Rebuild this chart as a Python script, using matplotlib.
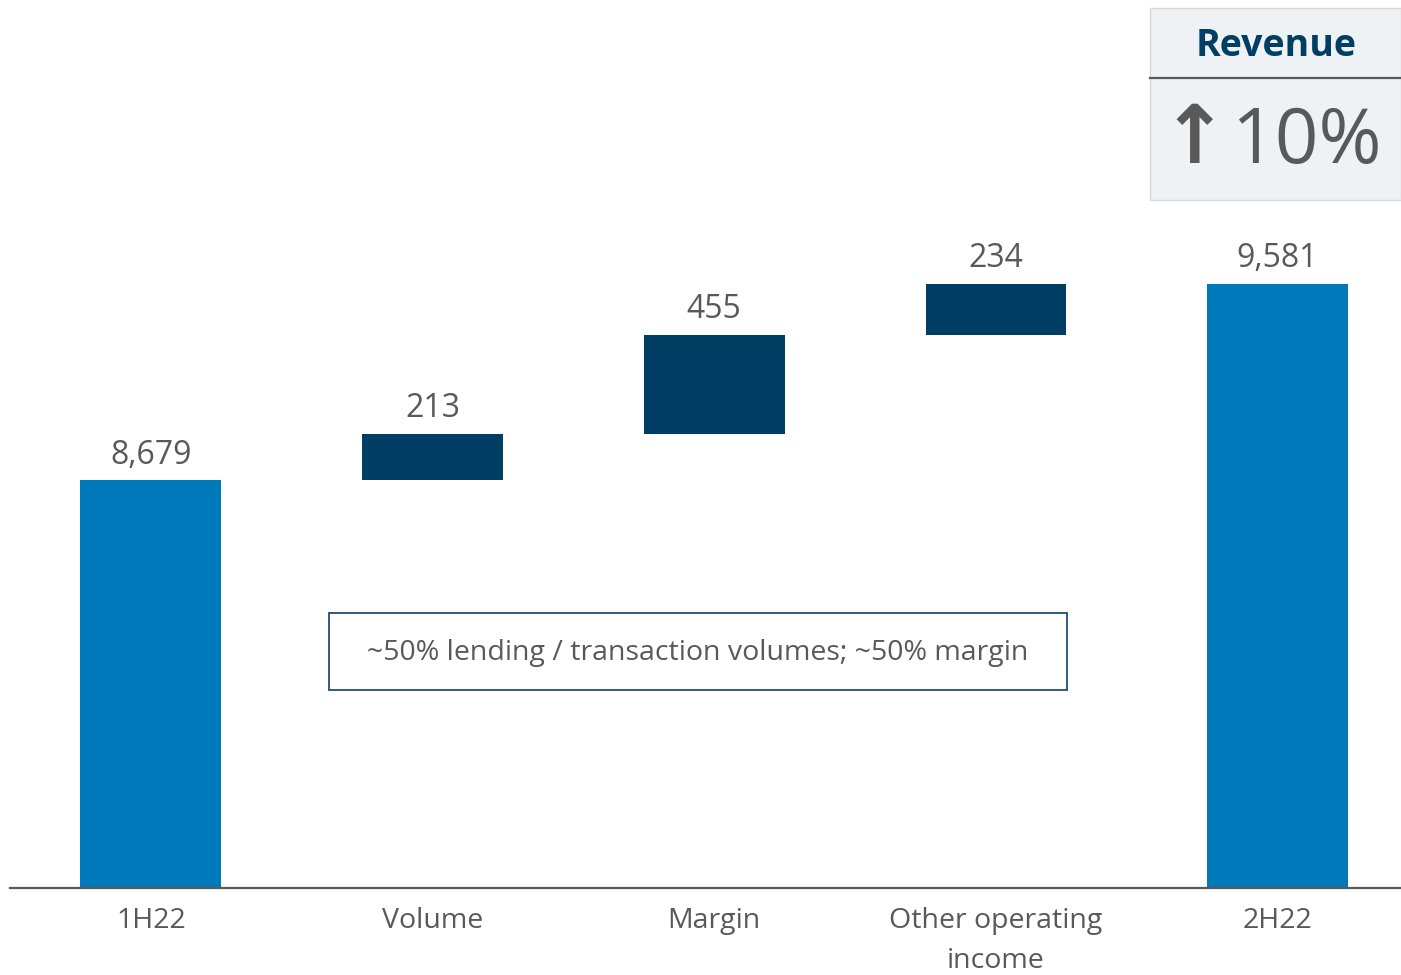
import matplotlib
matplotlib.use("Agg")
import matplotlib.pyplot as plt
from matplotlib.patches import Rectangle

categories = ["1H22", "Volume", "Margin", "Other operating\nincome", "2H22"]
start_total = 8679
deltas = [213, 455, 234]
end_total = 9581
value_labels = ["8,679", "213", "455", "234", "9,581"]

plt.rcParams['font.family'] = ['Open Sans', 'DejaVu Sans']

LIGHT = "#0079BB"
DARK = "#003F63"
GREY = "#595959"

fig = plt.figure(figsize=(14.01, 9.75), dpi=100)
ax = fig.add_axes([10/1401, 87/975, 1391/1401, 888/975])

ymin = 6801
ymax = 10887
ax.set_ylim(ymin, ymax)
ax.set_xlim(-0.5, 4.438)

w = 0.5
# totals
ax.bar(0, start_total - ymin, bottom=ymin, width=w, color=LIGHT)
ax.bar(4, end_total - ymin, bottom=ymin, width=w, color=LIGHT)
# deltas
cum = start_total
tops = [start_total]
for i, d in enumerate(deltas, start=1):
    ax.bar(i, d, bottom=cum, width=w, color=DARK)
    cum += d
    tops.append(cum)
tops.append(end_total)

for i, (t, lab) in enumerate(zip(tops, value_labels)):
    ax.annotate(lab, (i, t), xytext=(0, 6), textcoords="offset points",
                ha="center", va="bottom", fontsize=23, color=GREY)

for s in ["top", "right", "left"]:
    ax.spines[s].set_visible(False)
ax.spines["bottom"].set_color(GREY)
ax.spines["bottom"].set_linewidth(1.6)
ax.set_yticks([])
ax.set_xticks(range(5))
ax.set_xticklabels(categories, fontsize=20.5, color=GREY, linespacing=1.55, va="top")
ax.tick_params(axis="x", length=0, pad=14)

# annotation box
fig.patches.append(Rectangle((329/1401, 1-690/975), (1067-329)/1401, 77/975,
                             transform=fig.transFigure, fill=False,
                             edgecolor="#1F4E70", linewidth=1.3))
fig.text((329+1067)/2/1401, 1-653/975,
         "~50% lending / transaction volumes; ~50% margin",
         ha="center", va="center", fontsize=20.5, color=GREY)

# Revenue box
fig.patches.append(Rectangle((1150/1401, 1-200/975), 251/1401, 192/975,
                             transform=fig.transFigure, facecolor="#EFF2F5",
                             edgecolor="#D9D9D9", linewidth=1.0))
fig.add_artist(plt.Line2D([1150/1401, 1401/1401], [1-78/975, 1-78/975],
                          color=GREY, linewidth=1.6, transform=fig.transFigure))
fig.text(1276/1401, 1-46/975, "Revenue", ha="center", va="center",
         fontsize=27, fontweight="bold", color="#003F63")
fig.text(1194/1401, 1-141/975, "\u2191", ha="center", va="center",
         fontsize=58, fontweight="bold", color=GREY, family=['DejaVu Sans'])
fig.text(1306/1401, 1-143/975, "10%", ha="center", va="center",
         fontsize=55, color=GREY)

fig.savefig("out.png", dpi=100)
